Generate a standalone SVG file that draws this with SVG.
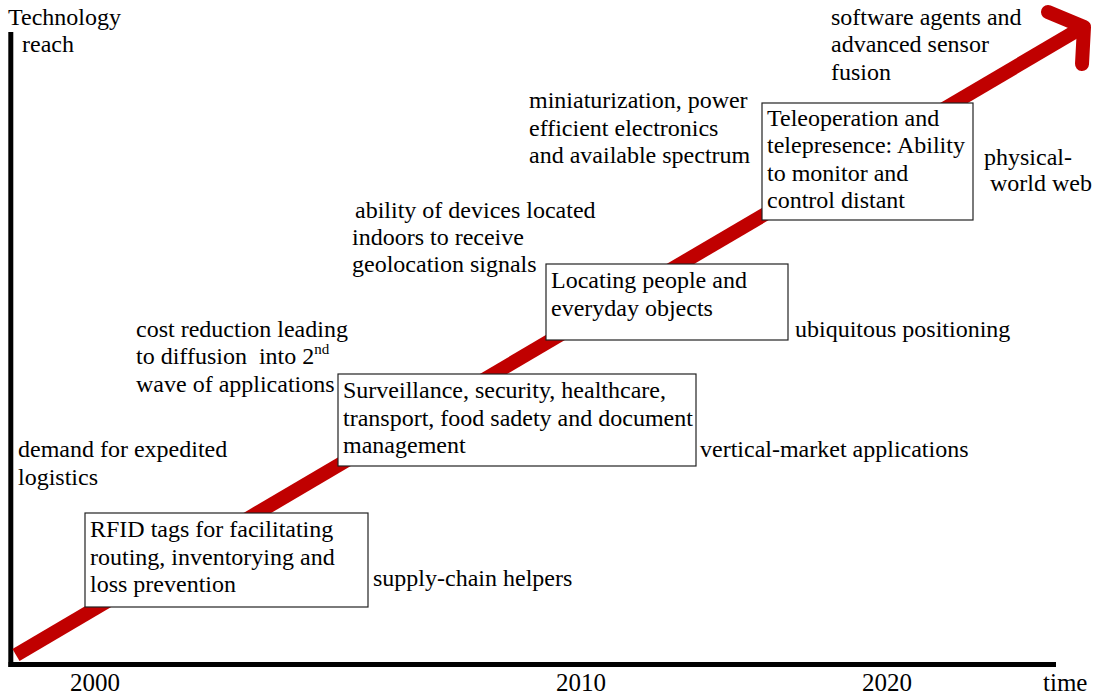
<svg xmlns="http://www.w3.org/2000/svg" width="1097" height="696" viewBox="0 0 1097 696">
<style>
.t{font-family:"Liberation Serif","Times New Roman",serif;font-size:24px;fill:#000}
.ax{font-family:"Liberation Serif","Times New Roman",serif;font-size:25px;fill:#000}
.box{fill:#fff;stroke:#222;stroke-width:1.2}
.axis{stroke:#000;stroke-width:5;fill:none}
.trend{stroke:#C00000;stroke-width:14;fill:none}
</style>
<rect width="1097" height="696" fill="#fff"/>
<g id="axes">
<line class="axis" x1="10.8" y1="32" x2="10.8" y2="667"/>
<line class="axis" x1="8.5" y1="664.5" x2="1056" y2="664.5"/>
<text class="t" x="8" y="25">Technology</text>
<text class="t" x="22" y="52">reach</text>
<text class="ax" x="70" y="691">2000</text>
<text class="ax" x="556" y="691">2010</text>
<text class="ax" x="862" y="691">2020</text>
<text class="ax" x="1043" y="691">time</text>
</g>
<g id="connectors">
<line class="trend" x1="16" y1="655" x2="1083" y2="27" stroke-linecap="butt"/>
<polyline class="trend" points="1048,12 1084,27 1082,64" stroke-linecap="round" stroke-linejoin="round"/>
</g>
<g id="n-rfid">
<rect class="box" x="85" y="513" width="283" height="94"/>
<text class="t" x="90" y="537">RFID tags for facilitating</text>
<text class="t" x="90" y="565">routing, inventorying and</text>
<text class="t" x="90" y="592">loss prevention</text>
</g>
<g id="n-supply"><text class="t" x="373" y="586">supply-chain helpers</text></g>
<g id="n-demand">
<text class="t" x="18" y="457">demand for expedited</text>
<text class="t" x="18" y="485">logistics</text>
</g>
<g id="n-surveillance">
<rect class="box" x="338" y="374" width="358" height="92"/>
<text class="t" x="343" y="398">Surveillance, security, healthcare,</text>
<text class="t" x="343" y="426">transport, food sadety and document</text>
<text class="t" x="343" y="453">management</text>
</g>
<g id="n-vertical"><text class="t" x="700" y="457">vertical-market applications</text></g>
<g id="n-cost">
<text class="t" x="136" y="337">cost reduction leading</text>
<text class="t" x="136" y="364" xml:space="preserve">to diffusion  into 2<tspan font-size="15" dy="-10">nd</tspan></text>
<text class="t" x="136" y="392">wave of applications</text>
</g>
<g id="n-locating">
<rect class="box" x="546" y="264" width="242" height="76"/>
<text class="t" x="551" y="288">Locating people and</text>
<text class="t" x="551" y="316">everyday objects</text>
</g>
<g id="n-ubiquitous"><text class="t" x="795" y="337">ubiquitous positioning</text></g>
<g id="n-ability">
<text class="t" x="355" y="218">ability of devices located</text>
<text class="t" x="352" y="245">indoors to receive</text>
<text class="t" x="352" y="272">geolocation signals</text>
</g>
<g id="n-tele">
<rect class="box" x="762" y="103" width="211" height="117"/>
<text class="t" x="767" y="126">Teleoperation and</text>
<text class="t" x="767" y="153">telepresence: Ability</text>
<text class="t" x="767" y="181">to monitor and</text>
<text class="t" x="767" y="208">control distant</text>
</g>
<g id="n-physical">
<text class="t" x="984" y="165">physical-</text>
<text class="t" x="990" y="191">world web</text>
</g>
<g id="n-mini">
<text class="t" x="529" y="108">miniaturization, power</text>
<text class="t" x="529" y="136">efficient electronics</text>
<text class="t" x="529" y="163">and available spectrum</text>
</g>
<g id="n-software">
<text class="t" x="831" y="25">software agents and</text>
<text class="t" x="831" y="52">advanced sensor</text>
<text class="t" x="831" y="80">fusion</text>
</g>
</svg>
